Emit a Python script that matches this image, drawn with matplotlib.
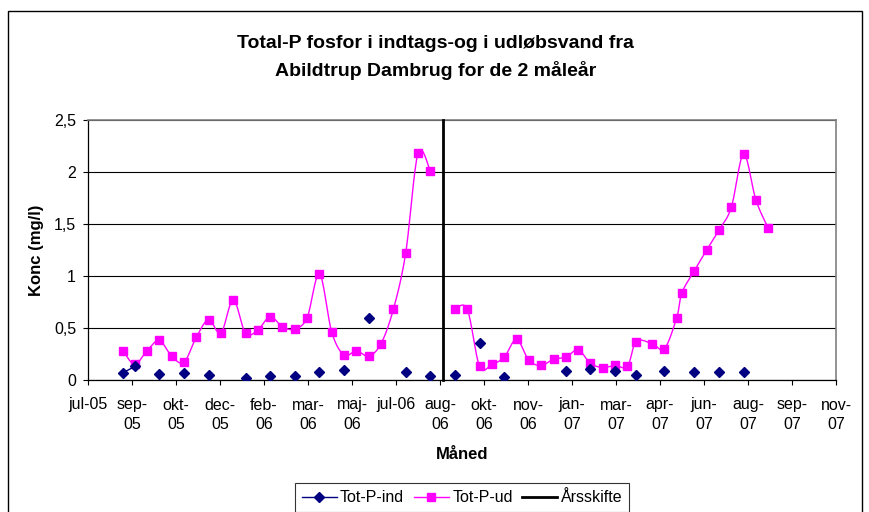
"""
Total-P (fosfor) i indtags- og udløbsvand, Abildtrup Dambrug, 2 måleår.
Excel-style line chart rebuilt with matplotlib, saved as out.png.
"""

from datetime import date, timedelta

import numpy as np
import matplotlib
matplotlib.use("Agg")
import matplotlib.pyplot as plt
import matplotlib.dates as mdates
from matplotlib.patches import Rectangle
from matplotlib.lines import Line2D

plt.rcParams["font.family"] = ["Liberation Sans", "DejaVu Sans"]

nan = np.nan

# --- data: måleår 1 ---
dates_y1 = ["2005-08-26", "2005-09-08", "2005-09-22", "2005-10-06", "2005-10-20",
            "2005-11-03", "2005-11-17", "2005-12-01", "2005-12-15", "2005-12-29",
            "2006-01-12", "2006-01-26", "2006-02-09", "2006-02-23", "2006-03-09",
            "2006-03-23", "2006-04-06", "2006-04-20", "2006-05-04", "2006-05-18",
            "2006-06-01", "2006-06-15", "2006-06-29", "2006-07-13", "2006-07-27",
            "2006-08-10"]
ud_y1 = [0.28, 0.15, 0.28, 0.38, 0.23, 0.17, 0.41, 0.58, 0.45, 0.77,
         0.45, 0.48, 0.61, 0.51, 0.49, 0.60, 1.02, 0.46, 0.24, 0.28,
         0.23, 0.35, 0.68, 1.22, 2.18, 2.01]
ind_y1 = [0.07, 0.13, nan, 0.06, nan, 0.07, nan, 0.045, nan, nan,
          0.02, nan, 0.035, nan, 0.035, nan, 0.08, nan, 0.095, nan,
          0.60, nan, nan, 0.08, nan, 0.035]

# --- data: måleår 2 ---
dates_y2 = ["2006-09-07", "2006-09-21", "2006-10-05", "2006-10-19", "2006-11-02",
            "2006-11-16", "2006-11-30", "2006-12-14", "2006-12-28", "2007-01-11",
            "2007-01-25", "2007-02-08", "2007-02-22", "2007-03-08", "2007-03-22",
            "2007-04-01", "2007-04-19", "2007-05-03", "2007-05-17", "2007-05-23",
            "2007-06-06", "2007-06-20", "2007-07-04", "2007-07-18", "2007-08-01",
            "2007-08-15", "2007-08-29"]
ud_y2 = [0.68, 0.68, 0.13, 0.15, 0.22, 0.39, 0.19, 0.14, 0.20, 0.22,
         0.29, 0.16, 0.12, 0.14, 0.13, 0.37, 0.35, 0.30, 0.60, 0.84,
         1.05, 1.25, 1.44, 1.66, 2.17, 1.73, 1.46]
ind_y2 = [0.045, nan, 0.36, nan, 0.03, nan, nan, nan, nan, 0.09,
          nan, 0.105, nan, 0.09, nan, 0.045, nan, 0.09, nan, nan,
          0.08, nan, 0.08, nan, 0.08, nan, nan]

aarsskifte = "2006-08-24"
aarsskifte_y = [0, 2.5]

axis_start = date(2005, 7, 17)
axis_days = 850
tick_step = 50
x_ticklabels = ["jul-05", "sep-\n05", "okt-\n05", "dec-\n05", "feb-\n06", "mar-\n06",
                "maj-\n06", "jul-06", "aug-\n06", "okt-\n06", "nov-\n06", "jan-\n07",
                "mar-\n07", "apr-\n07", "jun-\n07", "aug-\n07", "sep-\n07", "nov-\n07"]
y_ticks = [0, 0.5, 1, 1.5, 2, 2.5]
y_ticklabels = ["0", "0,5", "1", "1,5", "2", "2,5"]

PINK = "#FF00FF"
NAVY = "#000080"


def to_num(ds):
    return mdates.datestr2num(ds)


def smooth(x, y, n=16):
    # Excel-like smoothed line: cubic bezier with catmull-rom control points
    x = np.asarray(x, float)
    y = np.asarray(y, float)
    xs, ys = [x[0]], [y[0]]
    t = np.linspace(0, 1, n + 1)[1:]
    last = len(x) - 1
    for i in range(last):
        a, b = max(i - 1, 0), min(i + 2, last)
        c1x = x[i] + (x[i + 1] - x[a]) / 6
        c1y = y[i] + (y[i + 1] - y[a]) / 6
        c2x = x[i + 1] - (x[b] - x[i]) / 6
        c2y = y[i + 1] - (y[b] - y[i]) / 6
        u = 1 - t
        xs.extend(u**3 * x[i] + 3 * u**2 * t * c1x + 3 * u * t**2 * c2x + t**3 * x[i + 1])
        ys.extend(u**3 * y[i] + 3 * u**2 * t * c1y + 3 * u * t**2 * c2y + t**3 * y[i + 1])
    return xs, ys


fig = plt.figure(figsize=(8.69, 5.12), dpi=100)
ax = fig.add_axes([88 / 869, 1 - 380 / 512, 748 / 869, 260 / 512])

for ds, ud, ind in [(dates_y1, ud_y1, ind_y1), (dates_y2, ud_y2, ind_y2)]:
    x = to_num(ds)
    sx, sy = smooth(x, ud)
    ax.plot(sx, sy, color=PINK, lw=1.0, zorder=3)
    ax.plot(x, ud, ls="none", marker="s", ms=6.3, color=PINK, zorder=4)
    ax.plot(x, ind, color=NAVY, lw=1.0, marker="D", ms=4.6, zorder=5)

xv = to_num([aarsskifte] * 2)
ax.plot(xv, aarsskifte_y, color="black", lw=2.0, solid_capstyle="projecting",
        clip_on=False, zorder=6)

x0 = mdates.date2num(axis_start)
ax.set_xlim(x0, x0 + axis_days)
ax.set_xticks([mdates.date2num(axis_start + timedelta(days=tick_step * i))
               for i in range(len(x_ticklabels))])
ax.set_xticklabels(x_ticklabels, fontsize=11.5, linespacing=1.38)
ax.set_ylim(0, 2.5)
ax.set_yticks(y_ticks)
ax.set_yticklabels(y_ticklabels, fontsize=11.5)
ax.tick_params(length=3.6, width=0.8, color="black")
ax.tick_params(axis="x", pad=9)
ax.tick_params(axis="y", pad=5)

ax.grid(axis="y", color="black", lw=0.8)
ax.set_axisbelow(True)
for side in ["left", "bottom"]:
    ax.spines[side].set_color("black")
    ax.spines[side].set_linewidth(0.9)
for side in ["top", "right"]:
    ax.spines[side].set_color("#808080")
    ax.spines[side].set_linewidth(1.2)

ax.set_xlabel("Måned", fontsize=12, fontweight="bold", labelpad=11)
ax.set_ylabel("Konc (mg/l)", fontsize=12, fontweight="bold", labelpad=7)

fig.text(435.5 / 869, 1 - 57 / 512,
         "Total-P fosfor i indtags-og i udløbsvand fra\nAbildtrup Dambrug for de 2 måleår",
         ha="center", va="center", fontsize=14, fontweight="bold", linespacing=1.6)

handles = [
    Line2D([], [], color=NAVY, lw=1.0, marker="D", ms=4.6),
    Line2D([], [], color=PINK, lw=1.0, marker="s", ms=6.3),
    Line2D([], [], color="black", lw=2.0),
]
leg = fig.legend(handles, ["Tot-P-ind", "Tot-P-ud", "Årsskifte"], ncol=3,
                 loc="upper center", bbox_to_anchor=(462 / 869, 1 - 483 / 512),
                 fontsize=11.5, frameon=True, fancybox=False, borderpad=0.45,
                 handlelength=2.2, handletextpad=0.2, columnspacing=0.6,
                 borderaxespad=0)
leg.get_frame().set_edgecolor("black")
leg.get_frame().set_linewidth(0.8)

# chart border (runs off the bottom edge like the original)
fig.add_artist(Rectangle((8 / 869, -0.05), 854 / 869, 1.05 - 11 / 512,
                         transform=fig.transFigure, fill=False,
                         edgecolor="black", lw=1.0))

fig.savefig("out.png", dpi=100)
plt.close(fig)
